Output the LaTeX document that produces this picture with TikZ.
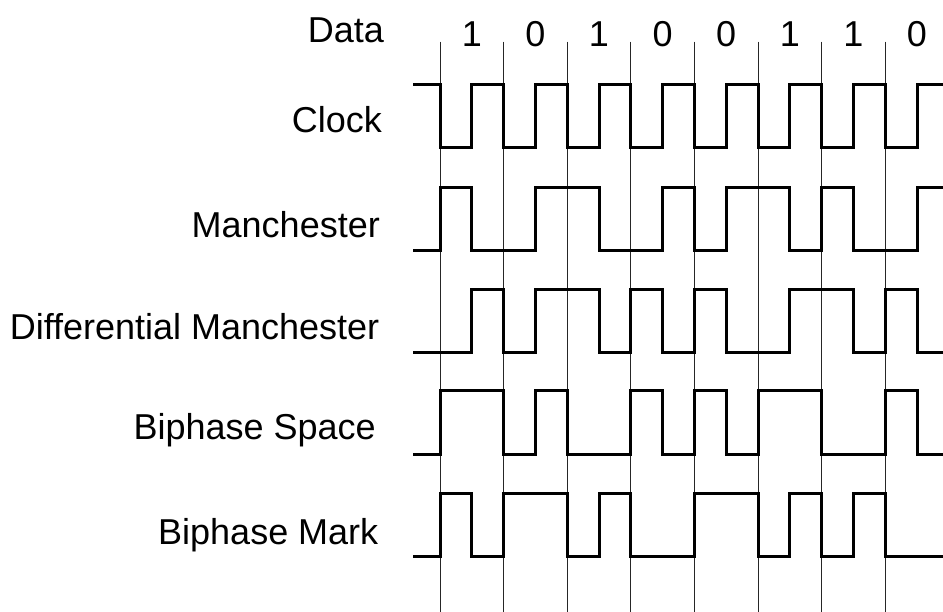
\documentclass[tikz,border=0pt]{standalone}
\usepackage{fontspec}
\setmainfont{Liberation Sans}
\usetikzlibrary{calc}

% one line code trace: #1 = high level, #2 = level before the first bit, #3 = half-bit levels
\newcommand{\wavetrace}[3]{%
  \draw[wave] (413,{#1+63-63*#2}) -- (\xs,{#1+63-63*#2}) \foreach \l [count=\i from 0] in {#3}
    { -- ({\xs+\i*\w/2},{#1+63-63*\l}) -- ({\xs+(\i+1)*\w/2},{#1+63-63*\l}) };
}

\begin{document}
\begin{tikzpicture}[x=1pt, y=-1pt,
    codename/.style={anchor=base east, inner sep=0pt, font=\fontsize{36}{40}\selectfont},
    bit/.style={anchor=base, inner sep=0pt, font=\fontsize{36}{40}\selectfont},
    wave/.style={line width=3pt, line join=miter},
    slot/.style={line width=1pt, black!85}
  ]
    % bit width and start of the first bit
    \def\w{63.6}
    \def\xs{440}

    \useasboundingbox (0,0) rectangle (943,612);
    \clip (0,0) rectangle (943,612);

    % bit boundaries
    \foreach \k in {0,...,7}
      \draw[slot] ({\xs+\k*\w},41.7) -- ({\xs+\k*\w},612);

    % data bits
    \node[codename] (data) at (384,42.7) {Data};
    \foreach \b [count=\k from 0] in {1,0,1,0,0,1,1,0}
      \node[bit] (d\k) at ({\xs+(\k+0.5)*\w},46.5) {\b};

    % line codes
    \node[codename] (clk)  at (382,132.7) {Clock};
    \wavetrace{85}{1}{0,1, 0,1, 0,1, 0,1, 0,1, 0,1, 0,1, 0,1}

    \node[codename] (man)  at (380,238) {Manchester};
    \wavetrace{187.5}{0}{1,0, 0,1, 1,0, 0,1, 0,1, 1,0, 1,0, 0,1}

    \node[codename] (dman) at (379.5,340) {Differential Manchester};
    \wavetrace{290}{0}{0,1, 0,1, 1,0, 1,0, 1,0, 0,1, 1,0, 1,0}

    \node[codename] (bps)  at (376,439.3) {Biphase Space};
    \wavetrace{391}{0}{1,1, 0,1, 0,0, 1,0, 1,0, 1,1, 0,0, 1,0}

    \node[codename] (bpm)  at (378.5,544) {Biphase Mark};
    \wavetrace{493}{0}{1,0, 1,1, 0,1, 0,0, 1,1, 0,1, 0,1, 0,0}
\end{tikzpicture}
\end{document}
